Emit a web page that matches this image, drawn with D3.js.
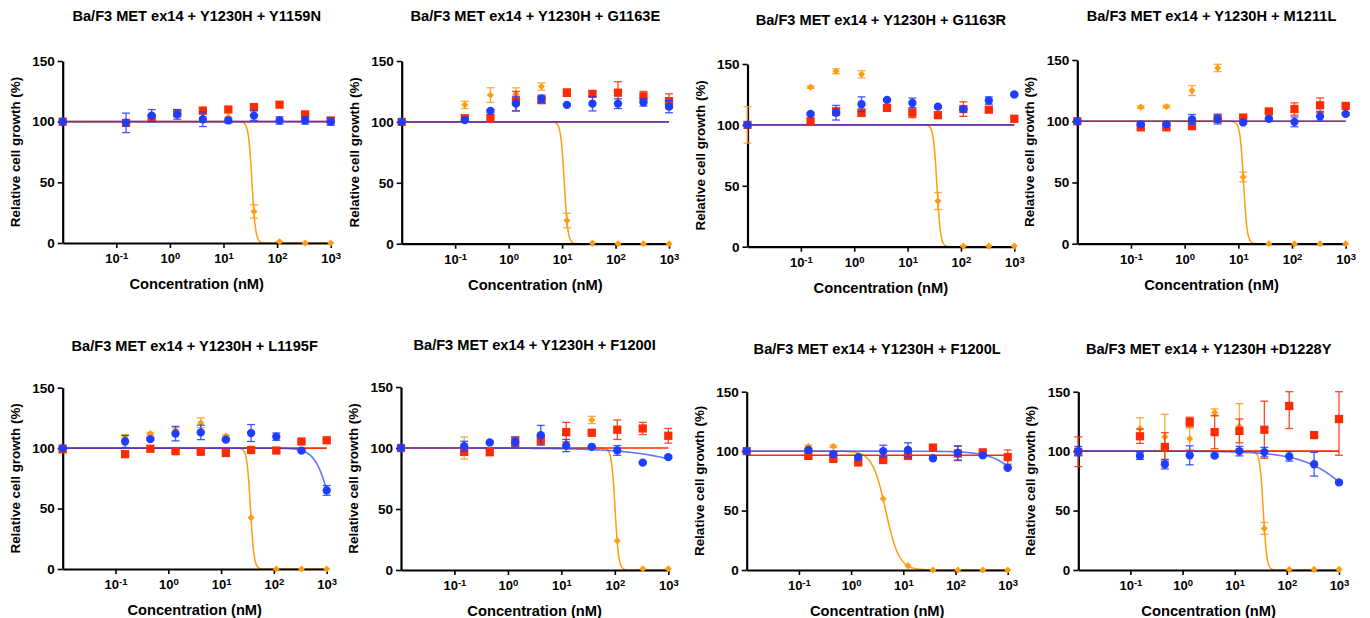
<!DOCTYPE html>
<html><head><meta charset="utf-8">
<script src="https://cdn.jsdelivr.net/npm/d3@7"></script>
<style>
body{margin:0;background:#fff}
text{font-family:"Liberation Sans",Arial,Helvetica,sans-serif;font-weight:bold;fill:#000}
</style>
</head><body>
<svg id="c" width="1370" height="618"></svg>
<script>
// ---------------- DATA ----------------
const concentrations = [0.01, 0.152, 0.457, 1.37, 4.12, 12.3, 37.0, 111, 333, 1000];
const panelTitles = [
  "Ba/F3 MET ex14 + Y1230H + Y1159N",
  "Ba/F3 MET ex14 + Y1230H + G1163E",
  "Ba/F3 MET ex14 + Y1230H + G1163R",
  "Ba/F3 MET ex14 + Y1230H + M1211L",
  "Ba/F3 MET ex14 + Y1230H + L1195F",
  "Ba/F3 MET ex14 + Y1230H + F1200I",
  "Ba/F3 MET ex14 + Y1230H + F1200L",
  "Ba/F3 MET ex14 + Y1230H +D1228Y"
];
const yTickValues = [0, 50, 100, 150];
const xTickValues = [0.1, 1, 10, 100, 1000];
const xAxisTitle = "Concentration (nM)";
const yAxisTitle = "Relative cell growth (%)";

// red squares
const redMeans = [
  [100, 99, 103, 107, 109, 110, 112, 114, 106, 101],
  [100, 103, 103, 117, 118, 124, 123, 124, 121, 117],
  [100, 103, 111, 110, 114, 110, 108, 113, 112.5, 105],
  [100, 95, 95, 96, 102, 103, 108, 110, 113, 112.5],
  [99, 95, 99.5, 97.5, 97, 96, 98.5, 98, 105.5, 106.5],
  [100, 97, 96.5, 105, 106.5, 113, 112.5, 115, 116, 110],
  [100, 96, 93.5, 90.5, 92.5, 96, 103, 98, 99, 95],
  [99.5, 112.5, 103.5, 124.5, 116, 117, 118, 138, 113.5, 127]
];
const redErrors = [
  [0, 0, 2, 2, 2, 0, 2, 0, 2, 2],
  [0, 2, 3, 8, 3, 3, 2, 9, 4, 6],
  [0, 0, 3, 3, 0, 4, 2, 6, 2, 0],
  [0, 1, 1, 1, 3, 1, 1, 5, 6, 1],
  [2, 1, 1, 1, 1, 1, 1, 1, 1, 1],
  [0, 3, 2, 4, 4, 8, 1, 8, 5, 6],
  [0, 1, 1, 1, 1, 3, 1, 6, 1, 6],
  [12.5, 6, 12, 4, 14, 10, 24, 19, 1, 30.5]
];
// blue circles
const blueMeans = [
  [100, 99, 105, 106, 102, 101, 105, 101, 101, 100],
  [100, 101.5, 109, 115, 119, 114, 115, 115, 116, 112.5],
  [100, 109, 110, 117, 120.5, 118, 115, 113, 120, 125],
  [100, 97.5, 97.5, 101.5, 101.8, 99, 102, 99.5, 104, 106],
  [100, 105.5, 107.5, 112, 113, 107, 112.5, 109.5, 98, 65],
  [100, 101.5, 104.5, 105, 110.5, 102, 101, 98, 88, 92.5],
  [100, 101, 97.5, 95, 100, 101, 94, 98.5, 96.5, 86],
  [100, 96, 89, 96.5, 96.2, 100, 99.2, 95.6, 89, 73.7]
];
const blueErrors = [
  [0, 8, 5, 4, 6, 2, 4, 3, 3, 3],
  [0, 1, 1, 6, 3, 1, 6, 4, 3, 5],
  [0, 1, 6, 6, 1, 4, 1, 1, 3, 1],
  [0, 1, 1, 4, 4, 1, 1, 4, 4, 1],
  [0, 5, 1, 6, 6, 1, 7, 3, 1, 4],
  [0, 4, 1, 4, 8, 5, 1, 4, 1, 1],
  [0, 1, 1, 1, 5, 6, 1, 6, 1, 1],
  [4, 3, 4, 8, 1, 4, 4, 4, 10, 1]
];
// orange diamonds
const orangeMeans = [
  [100, 100, 103, 106, 110, 104, 26, 1, 0, 0],
  [100, 114, 122, 123, 129, 19, 0.5, 0, 0, 0],
  [100, 131, 144, 141.5, null, null, 37.5, 0.5, 0.5, 0.5],
  [100, 111.5, 112, 125, 143.5, 54.5, 0, 0, 0, 0],
  [100, 109, 112, 115, 121, 110, 42.5, 0, 0, 0],
  [100, 100, 98, 106, 108, 104, 123, 24, 1, 1],
  [100, 104, 104, null, 60, 3.5, 0, 0, 0, 0],
  [100, 119, 112, 110.5, 132.5, 121, 35, 0.5, 0.5, 0.5]
];
const orangeErrors = [
  [0, 0, 0, 0, 2, 0, 5.5, 0, 0, 0],
  [0, 3, 6, 5, 3, 6, 0, 0, 0, 0],
  [15, 1, 2, 3, 0, 0, 7, 0, 0, 0],
  [0, 1, 1, 4, 3, 4, 0, 0, 0, 0],
  [3, 2, 1, 2, 4, 1, 0, 0, 0, 0],
  [0, 9, 0, 3, 3, 0, 3, 0, 0, 0],
  [0, 1, 1, 0, 0, 0, 0, 0, 0, 0],
  [0, 9, 19, 9, 3, 19, 5, 0, 0, 0]
];
// fitted curves: [top, bottom, IC50 (nM), Hill slope]
const redFits = [
  [100, 100, 1, 1], [100, 100, 1, 1], [100, 100, 1, 1], [100, 100, 1, 1],
  [100, 100, 1, 1], [100, 100, 1, 1], [96.5, 96.5, 1, 1], [100, 100, 1, 1]
];
const blueFits = [
  [100, 100, 1, 1], [100, 100, 1, 1], [100, 100, 1, 1], [100, 100, 1, 1],
  [100, 0, 1230, 3], [100, 0, 44000, 0.61], [100, 0, 3790, 1.43], [100, 0, 3430, 0.85]
];
const orangeFits = [
  [100, 0, 34, 13], [100, 0, 11, 13], [100, 0, 35.5, 13], [100, 0, 12.5, 13],
  [100, 0, 36, 13], [100, 0, 101, 13], [100, 0, 4.6, 3.4], [100, 0, 35.3, 13]
];

// ---------------- LAYOUT ----------------
const frames = [
  {L: 62.7, R: 330.7, T: 61, B: 243, ty: 21},
  {L: 401.7, R: 669, T: 61, B: 243.7, ty: 21},
  {L: 747.5, R: 1014.3, T: 64, B: 246.7, ty: 25},
  {L: 1077.3, R: 1345.7, T: 60, B: 243.7, ty: 21},
  {L: 62.7, R: 326.7, T: 387.7, B: 569, ty: 350.5},
  {L: 401, R: 668.3, T: 387, B: 570, ty: 350},
  {L: 746.7, R: 1007.7, T: 391.7, B: 570, ty: 354},
  {L: 1078.3, R: 1339, T: 391.7, B: 570, ty: 354}
];
const colors = {red: "#ff2a00", blue: "#1f3dff", orange: "#ff9c12"};

const svg = d3.select("#c");
svg.append("rect").attr("width", 1370).attr("height", 618).attr("fill", "#fff");

function hill(p, x) {
  const [top, bottom, ic50, h] = p;
  return bottom + (top - bottom) / (1 + Math.pow(x / ic50, h));
}

frames.forEach((f, i) => {
  const x = d3.scaleLog().domain([0.01, 1000]).range([f.L, f.R]);
  const y = d3.scaleLinear().domain([0, 150]).range([f.B, f.T]);
  const g = svg.append("g");

  // title
  g.append("text").attr("x", (f.L + f.R) / 2).attr("y", f.ty)
    .attr("text-anchor", "middle").attr("font-size", "14.6px").text(panelTitles[i]);

  // y axis title
  g.append("text")
    .attr("transform", `translate(${f.L - 43},${(f.T + f.B) / 2}) rotate(-90)`)
    .attr("text-anchor", "middle").attr("font-size", "13.4px").text(yAxisTitle);

  // x axis title
  g.append("text").attr("x", (f.L + f.R) / 2).attr("y", f.B + 46)
    .attr("text-anchor", "middle").attr("font-size", "14.7px").text(xAxisTitle);

  // fitted curves
  const xs = d3.range(0, 401).map(k => Math.pow(10, -2 + 5 * k / 400));
  const line = p => d3.line().x(d => x(d)).y(d => y(hill(p, d)));
  g.append("path").attr("d", line(orangeFits[i])(xs)).attr("fill", "none")
    .attr("stroke", colors.orange).attr("stroke-width", 1.5);
  g.append("path").attr("d", line(redFits[i])(xs)).attr("fill", "none")
    .attr("stroke", colors.red).attr("stroke-width", 1.6);
  g.append("path").attr("d", line(blueFits[i])(xs)).attr("fill", "none")
    .attr("stroke", colors.blue).attr("stroke-width", 1.6).attr("stroke-opacity", 0.7);

  // axes
  const ya = g.append("g").attr("transform", `translate(${f.L},0)`)
    .call(d3.axisLeft(y).tickValues(yTickValues).tickSize(5).tickSizeOuter(0).tickPadding(3));
  ya.selectAll("text").attr("font-size", "13.5px");
  const xa = g.append("g").attr("transform", `translate(0,${f.B})`)
    .call(d3.axisBottom(x).tickValues(xTickValues).tickSize(5).tickSizeOuter(0).tickPadding(6).tickFormat(() => ""));
  xa.selectAll(".tick text").attr("font-size", "13px").each(function(d) {
    const t = d3.select(this);
    t.append("tspan").text("10");
    t.append("tspan").attr("dy", "-0.42em").attr("font-size", "9.5px").text(String(Math.round(Math.log10(d))));
  });
  [ya, xa].forEach(a => {
    a.select(".domain").attr("stroke", "#000").attr("stroke-width", 2.2);
    a.selectAll(".tick line").attr("stroke", "#000").attr("stroke-width", 1.6);
  });

  // points with error bars
  const series = [
    {m: orangeMeans[i], e: orangeErrors[i], c: colors.orange, s: d3.symbolDiamond2, size: 32},
    {m: redMeans[i], e: redErrors[i], c: colors.red, s: d3.symbolSquare, size: 68},
    {m: blueMeans[i], e: blueErrors[i], c: colors.blue, s: d3.symbolCircle, size: 54}
  ];
  series.forEach(sr => {
    const pts = concentrations.map((c, k) => ({c, v: sr.m[k], e: sr.e[k]})).filter(d => d.v !== null);
    const eg = g.append("g").attr("stroke", sr.c).attr("stroke-width", 1.3).attr("stroke-opacity", 0.85);
    pts.filter(d => d.e > 0).forEach(d => {
      const cx = x(d.c);
      const y1 = y(Math.min(150, d.v + d.e)), y2 = y(Math.max(0, d.v - d.e));
      eg.append("line").attr("x1", cx).attr("x2", cx).attr("y1", y1).attr("y2", y2);
      eg.append("line").attr("x1", cx - 4).attr("x2", cx + 4).attr("y1", y1).attr("y2", y1);
      eg.append("line").attr("x1", cx - 4).attr("x2", cx + 4).attr("y1", y2).attr("y2", y2);
    });
    g.append("g").selectAll("path").data(pts).join("path")
      .attr("d", d3.symbol().type(sr.s).size(sr.size))
      .attr("transform", d => `translate(${x(d.c)},${y(d.v)})`)
      .attr("fill", sr.c);
  });
});
</script>
</body></html>
